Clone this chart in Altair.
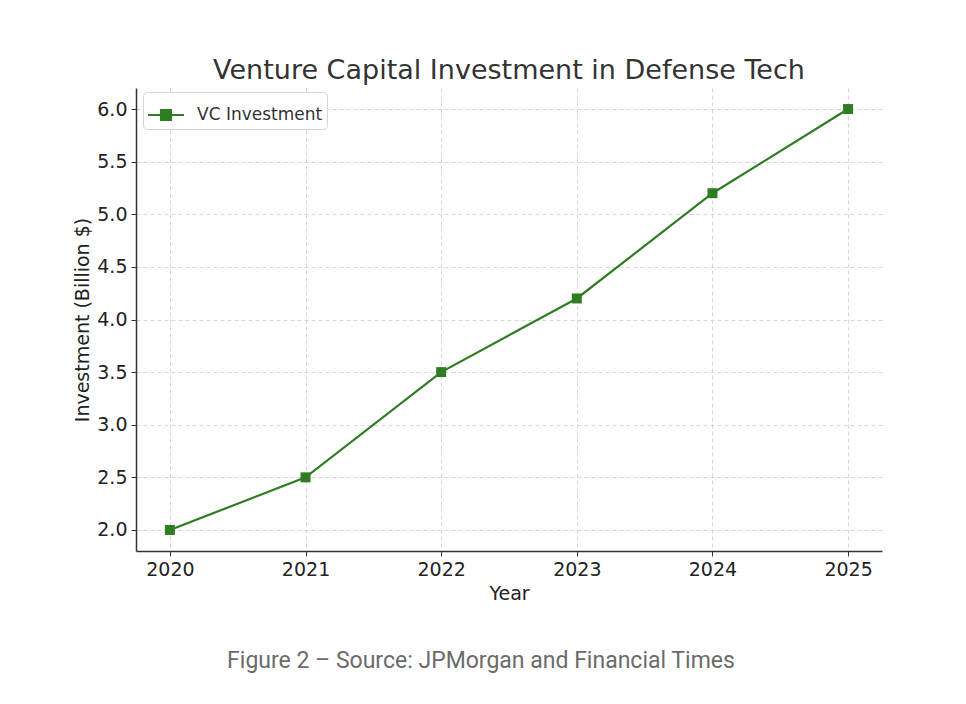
import altair as alt
import pandas as pd

years = [2020, 2021, 2022, 2023, 2024, 2025]
investment = [2.0, 2.5, 3.5, 4.2, 5.2, 6.0]
series_name = "VC Investment"
title_text = "Venture Capital Investment in Defense Tech"
caption_text = "Figure 2 \u2013 Source: JPMorgan and Financial Times"
y_ticks = [2.0, 2.5, 3.0, 3.5, 4.0, 4.5, 5.0, 5.5, 6.0]

GREEN = "#2f7d22"

df = pd.DataFrame({"Year": years, "Investment": investment, "Series": [series_name] * len(years)})

x_enc = alt.X("Year:Q", scale=alt.Scale(domain=[2019.75, 2025.25], nice=False, zero=False),
              axis=alt.Axis(values=years, format="d", title="Year"))
y_enc = alt.Y("Investment:Q", scale=alt.Scale(domain=[1.8, 6.2], nice=False, zero=False),
              axis=alt.Axis(values=y_ticks, format=".1f", title="Investment (Billion $)"))
color_enc = alt.Color("Series:N", scale=alt.Scale(range=[GREEN]),
                      legend=alt.Legend(title=None, orient="none", legendX=7, legendY=4,
                                        symbolType="M-1,0L1,0M-0.28,-0.28L0.28,-0.28L0.28,0.28L-0.28,0.28Z",
                                        symbolSize=1296, symbolStrokeWidth=2,
                                        symbolFillColor=GREEN, symbolStrokeColor=GREEN,
                                        labelFontSize=17, labelFont="DejaVu Sans", labelColor="#333",
                                        fillColor="white", strokeColor="#d5d5d5", cornerRadius=4,
                                        padding=4, labelOffset=12))

line = alt.Chart(df).mark_line(strokeWidth=2.2).encode(x=x_enc, y=y_enc, color=color_enc)
points = alt.Chart(df).mark_point(shape="square", filled=True, size=100, opacity=1).encode(
    x=x_enc, y=y_enc, color=alt.Color("Series:N", scale=alt.Scale(range=[GREEN]), legend=None))

caption = alt.Chart(pd.DataFrame({"t": [caption_text]})).mark_text(
    font="Roboto", fontSize=23, color="#6b6b6b", align="center", baseline="middle"
).encode(text="t:N", x=alt.value(345), y=alt.value(573))

chart = alt.layer(line, points, caption).properties(
    width=746, height=463,
    title=alt.TitleParams(title_text, fontSize=27, font="DejaVu Sans", fontWeight="normal",
                          color="#333", anchor="middle", offset=3),
    autosize=alt.AutoSizeParams(type="none"),
    padding={"left": 128, "top": 80, "right": 76, "bottom": 145},
).configure_view(stroke=None).configure_axis(
    labelFont="DejaVu Sans", labelFontSize=19, labelColor="#222",
    titleFont="DejaVu Sans", titleFontSize=19, titleColor="#222", titleFontWeight="normal",
    gridDash=[4, 3], gridColor="#cccccc", gridWidth=0.8,
    domainColor="#333", domainWidth=1.5, tickColor="#333", tickSize=5, tickWidth=1,
    labelPadding=4,
).configure_axisY(titlePadding=4).configure_axisX(titlePadding=5)

chart.save("out.html", embed_options={"renderer": "svg", "actions": False})
